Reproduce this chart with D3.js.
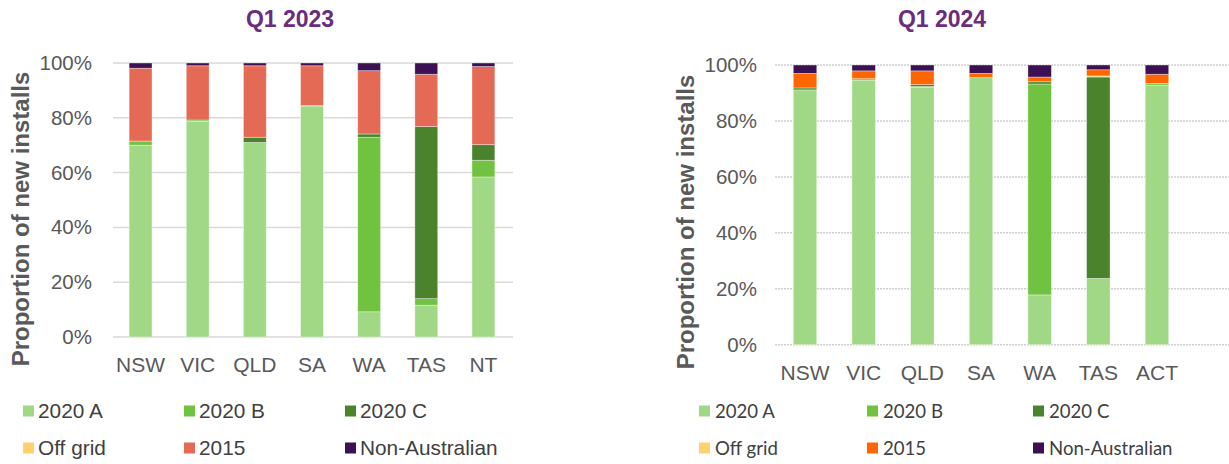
<!DOCTYPE html>
<html><head><meta charset="utf-8">
<script src="https://cdn.jsdelivr.net/npm/d3@7"></script>
<style>body{margin:0;background:#fff}svg{display:block}</style>
</head><body>
<svg id="chart" width="1229" height="464"></svg>
<script>
const seriesNames = ["2020 A","2020 B","2020 C","Off grid","2015","Non-Australian"];
const yTicks = [0,20,40,60,80,100];

const states2023 = ["NSW","VIC","QLD","SA","WA","TAS","NT"];
const a2023   = [70.0, 78.7, 71.0, 84.3,  9.2, 11.6, 58.4];
const b2023   = [ 1.5,  0.5,  0.0,  0.0, 63.7,  2.4,  6.1];
const c2023   = [ 0.0,  0.0,  1.9,  0.2,  1.2, 62.8,  5.7];
const off2023 = [ 0.0,  0.0,  0.0,  0.0,  0.0,  0.0,  0.0];
const s15_2023= [26.6, 19.8, 26.1, 14.5, 23.1, 19.1, 28.5];
const non2023 = [ 1.9,  1.0,  1.0,  1.0,  2.8,  4.1,  1.3];

const states2024 = ["NSW","VIC","QLD","SA","WA","TAS","ACT"];
const a2024   = [91.1, 94.6, 92.0, 95.5, 17.8, 23.7, 92.8];
const b2024   = [ 0.0,  0.5,  0.3,  0.0, 75.4,  0.0,  0.6];
const c2024   = [ 0.7,  0.0,  0.7,  0.0,  0.8, 72.0,  0.0];
const off2024 = [ 0.0,  0.0,  0.0,  0.0,  0.0,  0.4,  0.0];
const s15_2024= [ 5.2,  2.8,  4.9,  1.5,  1.7,  2.2,  3.3];
const non2024 = [ 3.0,  2.1,  2.1,  3.0,  4.3,  1.7,  3.3];

const svg = d3.select("#chart");

function panel(cfg){
  const g = svg.append("g");
  const rows = cfg.states.map((s,i)=>{
    const r = {state:s};
    cfg.series.forEach((arr,k)=> r[seriesNames[k]] = arr[i]);
    return r;
  });
  const stack = d3.stack().keys(seriesNames)(rows);
  const x = d3.scaleBand().domain(cfg.states).range(cfg.xRange).paddingInner(0.6).paddingOuter(0.3);
  const y = d3.scaleLinear().domain([0,100]).range(cfg.yRange);

  g.append("g").selectAll("line").data(yTicks).join("line")
    .attr("x1", cfg.gridX[0]).attr("x2", cfg.gridX[1])
    .attr("y1", d=>y(d)).attr("y2", d=>y(d))
    .attr("stroke", cfg.gridColor).attr("stroke-width", cfg.gridWidth)
    .attr("stroke-dasharray", cfg.gridDash);

  const ya = g.append("g").attr("transform", `translate(${cfg.tickX},0)`)
    .call(d3.axisLeft(y).tickValues(yTicks).tickFormat(d=>d+"%").tickSize(0).tickPadding(0));
  ya.select(".domain").remove();
  ya.selectAll("text").attr("font-family", "Liberation Sans, Arial, sans-serif")
    .attr("font-size", 20.5).attr("fill", "#595959");

  g.append("g").selectAll("g").data(stack).join("g")
    .attr("fill", (d,i)=>cfg.colors[i])
    .selectAll("rect").data(d=>d).join("rect")
    .attr("x", d=>x(d.data.state)).attr("width", x.bandwidth())
    .attr("y", d=>y(d[1])).attr("height", d=>Math.max(0, y(d[0])-y(d[1])))
    .attr("stroke", "rgba(255,255,255,0.45)").attr("stroke-width", 0.8);

  const xa = g.append("g").attr("transform", `translate(0,${cfg.xLabelY})`)
    .call(d3.axisBottom(x).tickSize(0).tickPadding(0));
  xa.select(".domain").remove();
  xa.selectAll("text").attr("font-family", "Liberation Sans, Arial, sans-serif")
    .attr("font-size", 21).attr("fill", "#595959").attr("dy", 0);

  g.append("text").attr("x", cfg.titleX).attr("y", 27).attr("text-anchor","middle")
    .attr("font-family","Liberation Sans, Arial, sans-serif").attr("font-weight","bold")
    .attr("font-size", 23).attr("fill","#6B2C7E").text(cfg.title);

  g.append("text").attr("transform", `translate(${cfg.yTitleX},${cfg.yTitleY}) rotate(-90)`)
    .attr("text-anchor","middle")
    .attr("font-family","Liberation Sans, Arial, sans-serif").attr("font-weight","bold")
    .attr("font-size", 24).attr("fill","#595959").text("Proportion of new installs");

  const lg = g.append("g");
  seriesNames.forEach((n,i)=>{
    const col = i%3, row = Math.floor(i/3);
    const lx = cfg.legendX[col], ly = cfg.legendY[row];
    lg.append("rect").attr("x", lx).attr("y", ly-5.5).attr("width", 11).attr("height", 11).attr("fill", cfg.colors[i]);
    lg.append("text").attr("x", lx+cfg.legendTextDx).attr("y", ly).attr("dy","0.35em")
      .attr("font-family", cfg.legendFont).attr("font-size", cfg.legendSize).attr("fill","#404040").text(n);
  });
}

panel({
  states: states2023,
  series: [a2023,b2023,c2023,off2023,s15_2023,non2023],
  colors: ["#A1D886","#71C241","#4A832C","#FFD26F","#E56A55","#3C1053"],
  xRange: [112,512], yRange: [337,63], gridX: [113,513],
  gridColor: "#D9D9D9", gridWidth: 1.5, gridDash: null,
  tickX: 92, xLabelY: 372,
  titleX: 290, title: "Q1 2023",
  yTitleX: 29, yTitleY: 219,
  legendX: [23,184,345], legendY: [411,448], legendTextDx: 15,
  legendFont: "Liberation Sans, Arial, sans-serif", legendSize: 20.8
});

panel({
  states: states2024,
  series: [a2024,b2024,c2024,off2024,s15_2024,non2024],
  colors: ["#A1D886","#71C241","#4A832C","#FFD26F","#FF6600","#3C1053"],
  xRange: [775.7,1186.3], yRange: [344.7,65], gridX: [775,1229],
  gridColor: "#D0D0D0", gridWidth: 1.5, gridDash: "2,1",
  tickX: 757, xLabelY: 380,
  titleX: 942, title: "Q1 2024",
  yTitleX: 694, yTitleY: 222,
  legendX: [699,867,1033], legendY: [411,448], legendTextDx: 16,
  legendFont: "Lato, Carlito, sans-serif", legendSize: 18.6
});
</script>
</body></html>
